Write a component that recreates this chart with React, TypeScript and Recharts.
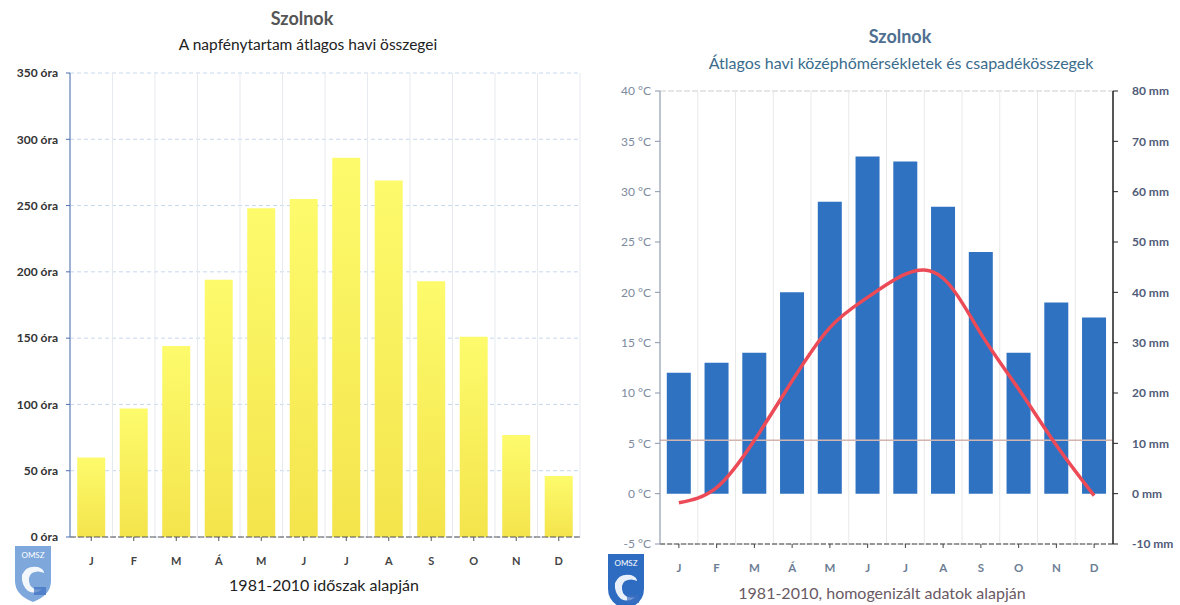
import React from 'react'
import {
  BarChart,
  Bar,
  ComposedChart,
  Line,
  XAxis,
  YAxis,
  CartesianGrid,
  ReferenceLine,
} from 'recharts'

const months = ['J', 'F', 'M', 'Á', 'M', 'J', 'J', 'A', 'S', 'O', 'N', 'D']
const sunshineHours = [60, 97, 144, 194, 248, 255, 286, 269, 193, 151, 77, 46]
const precipitationMm = [24, 26, 28, 40, 58, 67, 66, 57, 48, 28, 38, 35]
const temperatureC = [-0.9, 0.6, 5.3, 11.2, 16.5, 19.5, 21.8, 21.4, 15.9, 10.4, 4.8, -0.2]

const hourTicks = [0, 50, 100, 150, 200, 250, 300, 350]
const tempTicks = [-5, 0, 5, 10, 15, 20, 25, 30, 35, 40]
const mmTicks = [-10, 0, 10, 20, 30, 40, 50, 60, 70, 80]

const FONT = 'Lato, "Open Sans", sans-serif'

const sunData = months.map((m, i) => ({ month: m, hours: sunshineHours[i] }))
const climateData = months.map((m, i) => ({
  month: m,
  precip: precipitationMm[i],
  temp: temperatureC[i],
}))

// grid lines between the month bands instead of through their centres
const bandEdges = ({ offset }: any) => {
  const out: number[] = []
  for (let i = 0; i <= 12; i++) out.push(offset.left + (i * offset.width) / 12)
  return out
}

function Logo({ x, y, color }: { x: number; y: number; color: string }) {
  return (
    <svg style={{ position: 'absolute', left: x, top: y }} width={38} height={58}>
      <path d="M1,1 H37 V36 Q37,50 19,57 Q1,50 1,36 Z" fill={color} />
      <text x={19} y={13} textAnchor="middle" fontSize={8} fill="#fff" fontFamily={FONT}>
        OMSZ
      </text>
      <path
        d="M8,30 Q12,20 24,22 Q30,24 30,28 Q24,25 18,28 Q13,32 16,40 Q20,46 28,44 Q22,50 14,46 Q7,40 8,30 Z"
        fill="#fff"
        opacity={0.9}
      />
      <rect x={20} y={42} width={12} height={8} fill="#3d6fc0" opacity={0.7} />
    </svg>
  )
}

const label = (style: React.CSSProperties, text: string) => (
  <div
    style={{
      position: 'absolute',
      whiteSpace: 'nowrap',
      transform: 'translate(-50%, -50%)',
      fontFamily: FONT,
      ...style,
    }}
  >
    {text}
  </div>
)

export default function App() {
  return (
    <div
      style={{
        position: 'absolute',
        left: 0,
        top: 0,
        width: 1180,
        height: 605,
        background: '#fff',
        overflow: 'hidden',
      }}
    >
      {/* left: sunshine */}
      <div style={{ position: 'absolute', left: 0, top: 0 }}>
        <BarChart
          width={590}
          height={605}
          data={sunData}
          margin={{ top: 73, right: 10, bottom: 38, left: 0 }}
          barCategoryGap="17%"
        >
          <defs>
            <linearGradient id="sunFill" x1="0" y1="0" x2="0" y2="1">
              <stop offset="0%" stopColor="#fdfb6c" />
              <stop offset="100%" stopColor="#f4e44c" />
            </linearGradient>
          </defs>
          <CartesianGrid vertical={false} stroke="#c6d8ee" strokeDasharray="4 3" />
          <CartesianGrid
            horizontal={false}
            stroke="#e6e9ee"
            verticalCoordinatesGenerator={bandEdges}
          />
          <XAxis
            dataKey="month"
            tickLine={{ stroke: '#555' }}
            tickSize={4}
            tickMargin={16}
            height={30}
            axisLine={{ stroke: '#555', strokeDasharray: '6 2' }}
            tick={{ fontSize: 11, fontWeight: 700, fill: '#444', fontFamily: FONT }}
            interval={0}
          />
          <YAxis
            width={70}
            domain={[0, 350]}
            ticks={hourTicks}
            interval={0}
            tickFormatter={(v) => `${v} óra`}
            tickSize={4}
            tickMargin={8}
            axisLine={{ stroke: '#4a6fb0' }}
            tickLine={{ stroke: '#4a6fb0' }}
            tick={{ fontSize: 12, fontWeight: 700, fill: '#333', fontFamily: FONT }}
          />
          <Bar dataKey="hours" fill="url(#sunFill)" isAnimationActive={false} />
        </BarChart>
      </div>

      {label({ left: 302, top: 18, fontSize: 18, fontWeight: 700, color: '#555' }, 'Szolnok')}
      {label({ left: 308, top: 44, fontSize: 15.5, color: '#222' }, 'A napfénytartam átlagos havi összegei')}
      {label({ left: 324, top: 584, fontSize: 16, color: '#222' }, '1981-2010 időszak alapján')}
      <Logo x={14} y={545} color="#7ea8dc" />

      {/* right: temperature and precipitation */}
      <div style={{ position: 'absolute', left: 590, top: 0 }}>
        <ComposedChart
          width={590}
          height={605}
          data={climateData}
          margin={{ top: 91, right: 0, bottom: 35, left: 0 }}
          barCategoryGap="18%"
        >
          <CartesianGrid vertical={false} stroke="#cdcdcd" strokeDasharray="6 2" />
          <CartesianGrid
            horizontal={false}
            stroke="#e8e8e8"
            verticalCoordinatesGenerator={bandEdges}
          />
          <XAxis
            dataKey="month"
            tickLine={{ stroke: '#444' }}
            tickSize={4}
            tickMargin={16}
            height={26}
            axisLine={{ stroke: '#444', strokeDasharray: '5 2' }}
            tick={{ fontSize: 11.5, fontWeight: 700, fill: '#6b7d94', fontFamily: FONT }}
            interval={0}
          />
          <YAxis
            yAxisId="t"
            width={70}
            domain={[-5, 40]}
            ticks={tempTicks}
            interval={0}
            tickFormatter={(v) => `${v} °C`}
            tickSize={5}
            tickMargin={4}
            axisLine={{ stroke: '#8a96ac' }}
            tickLine={{ stroke: '#8a96ac' }}
            tick={{ fontSize: 12, fill: '#7d8aa0', fontFamily: FONT }}
          />
          <YAxis
            yAxisId="p"
            orientation="right"
            width={67}
            domain={[-10, 80]}
            ticks={mmTicks}
            interval={0}
            tickFormatter={(v) => `${v} mm`}
            tickSize={5}
            tickMargin={14}
            axisLine={{ stroke: '#222', strokeWidth: 1.5 }}
            tickLine={{ stroke: '#222' }}
            tick={{ fontSize: 12, fontWeight: 700, fill: '#4f5b78', fontFamily: FONT }}
          />
          <ReferenceLine yAxisId="t" y={5.3} stroke="#d2b4b0" strokeWidth={1.5} />
          <Bar yAxisId="p" dataKey="precip" fill="#2f72c2" isAnimationActive={false} />
          <Line
            yAxisId="t"
            dataKey="temp"
            type="natural"
            stroke="#ec4a57"
            strokeWidth={3.5}
            dot={false}
            isAnimationActive={false}
          />
        </ComposedChart>
      </div>

      {label({ left: 900, top: 36, fontSize: 18, fontWeight: 700, color: '#4e6f90' }, 'Szolnok')}
      {label(
        { left: 901, top: 62, fontSize: 16, color: '#3b6c8c' },
        'Átlagos havi középhőmérsékletek és csapadékösszegek'
      )}
      {label(
        { left: 882, top: 592, fontSize: 16, color: '#6a5a64' },
        '1981-2010, homogenizált adatok alapján'
      )}
      <Logo x={607} y={553} color="#2e6cc2" />
    </div>
  )
}
